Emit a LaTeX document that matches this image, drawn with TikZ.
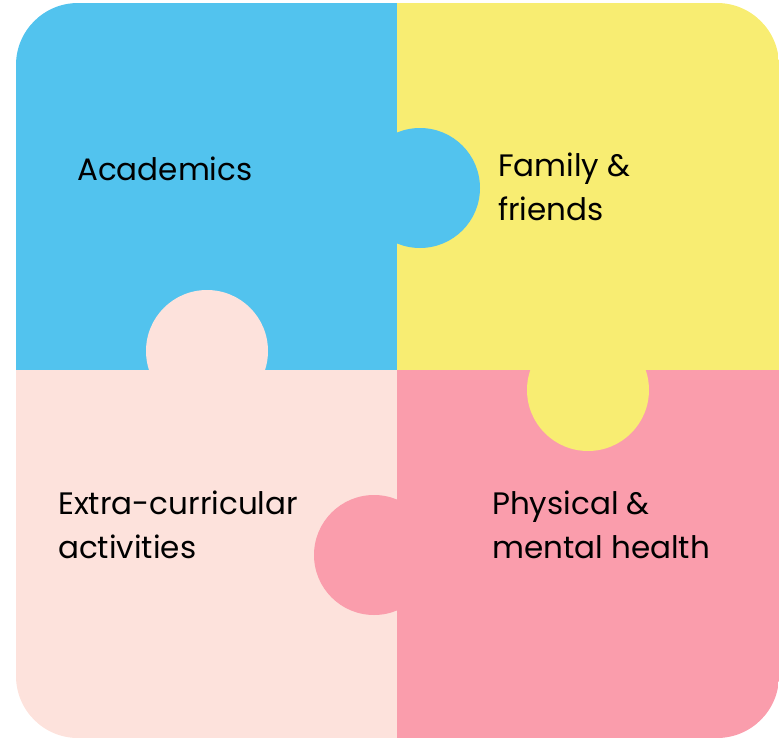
\documentclass[tikz,border=0pt]{standalone}
\usepackage{fontspec}
\setmainfont{Poppins}
\usepackage{tikz}
\usetikzlibrary{positioning}
\usepackage{xcolor}
\definecolor{pzblue}{RGB}{82,195,238}
\definecolor{pzyellow}{RGB}{248,237,114}
\definecolor{pzpeach}{RGB}{253,226,220}
\definecolor{pzpink}{RGB}{250,157,172}
\tikzstyle{label} = [anchor=base west, align=left, inner sep=0pt, font=\fontsize{31}{44}\selectfont]

\begin{document}
\begin{tikzpicture}[x=1pt, y=-1pt]
\useasboundingbox (0,0) rectangle (780,739);
% four pieces inside the rounded frame
\begin{scope}
\clip[rounded corners=62pt] (16,3) rectangle (779,738);
\fill[pzblue] (16,3) rectangle (397,370);
\fill[pzyellow] (397,3) rectangle (779,370);
\fill[pzpeach] (16,370) rectangle (397,738);
\fill[pzpink] (397,370) rectangle (779,738);
% tabs
\fill[pzblue] (420,188) circle (60);
\fill[pzpeach] (207,351) circle (61);
\fill[pzyellow] (588,390) circle (61);
\fill[pzpink] (374,555) circle (60);
\end{scope}
% labels
\node[label] (acad) at (77,180) {Academics};
\node[label] (fam) at (498,220) {Family \&\\friends};
\node[label] (extra) at (58,558) {Extra-curricular\\activities};
\node[label] (phys) at (492,558) {Physical \&\\mental health};
\end{tikzpicture}
\end{document}
